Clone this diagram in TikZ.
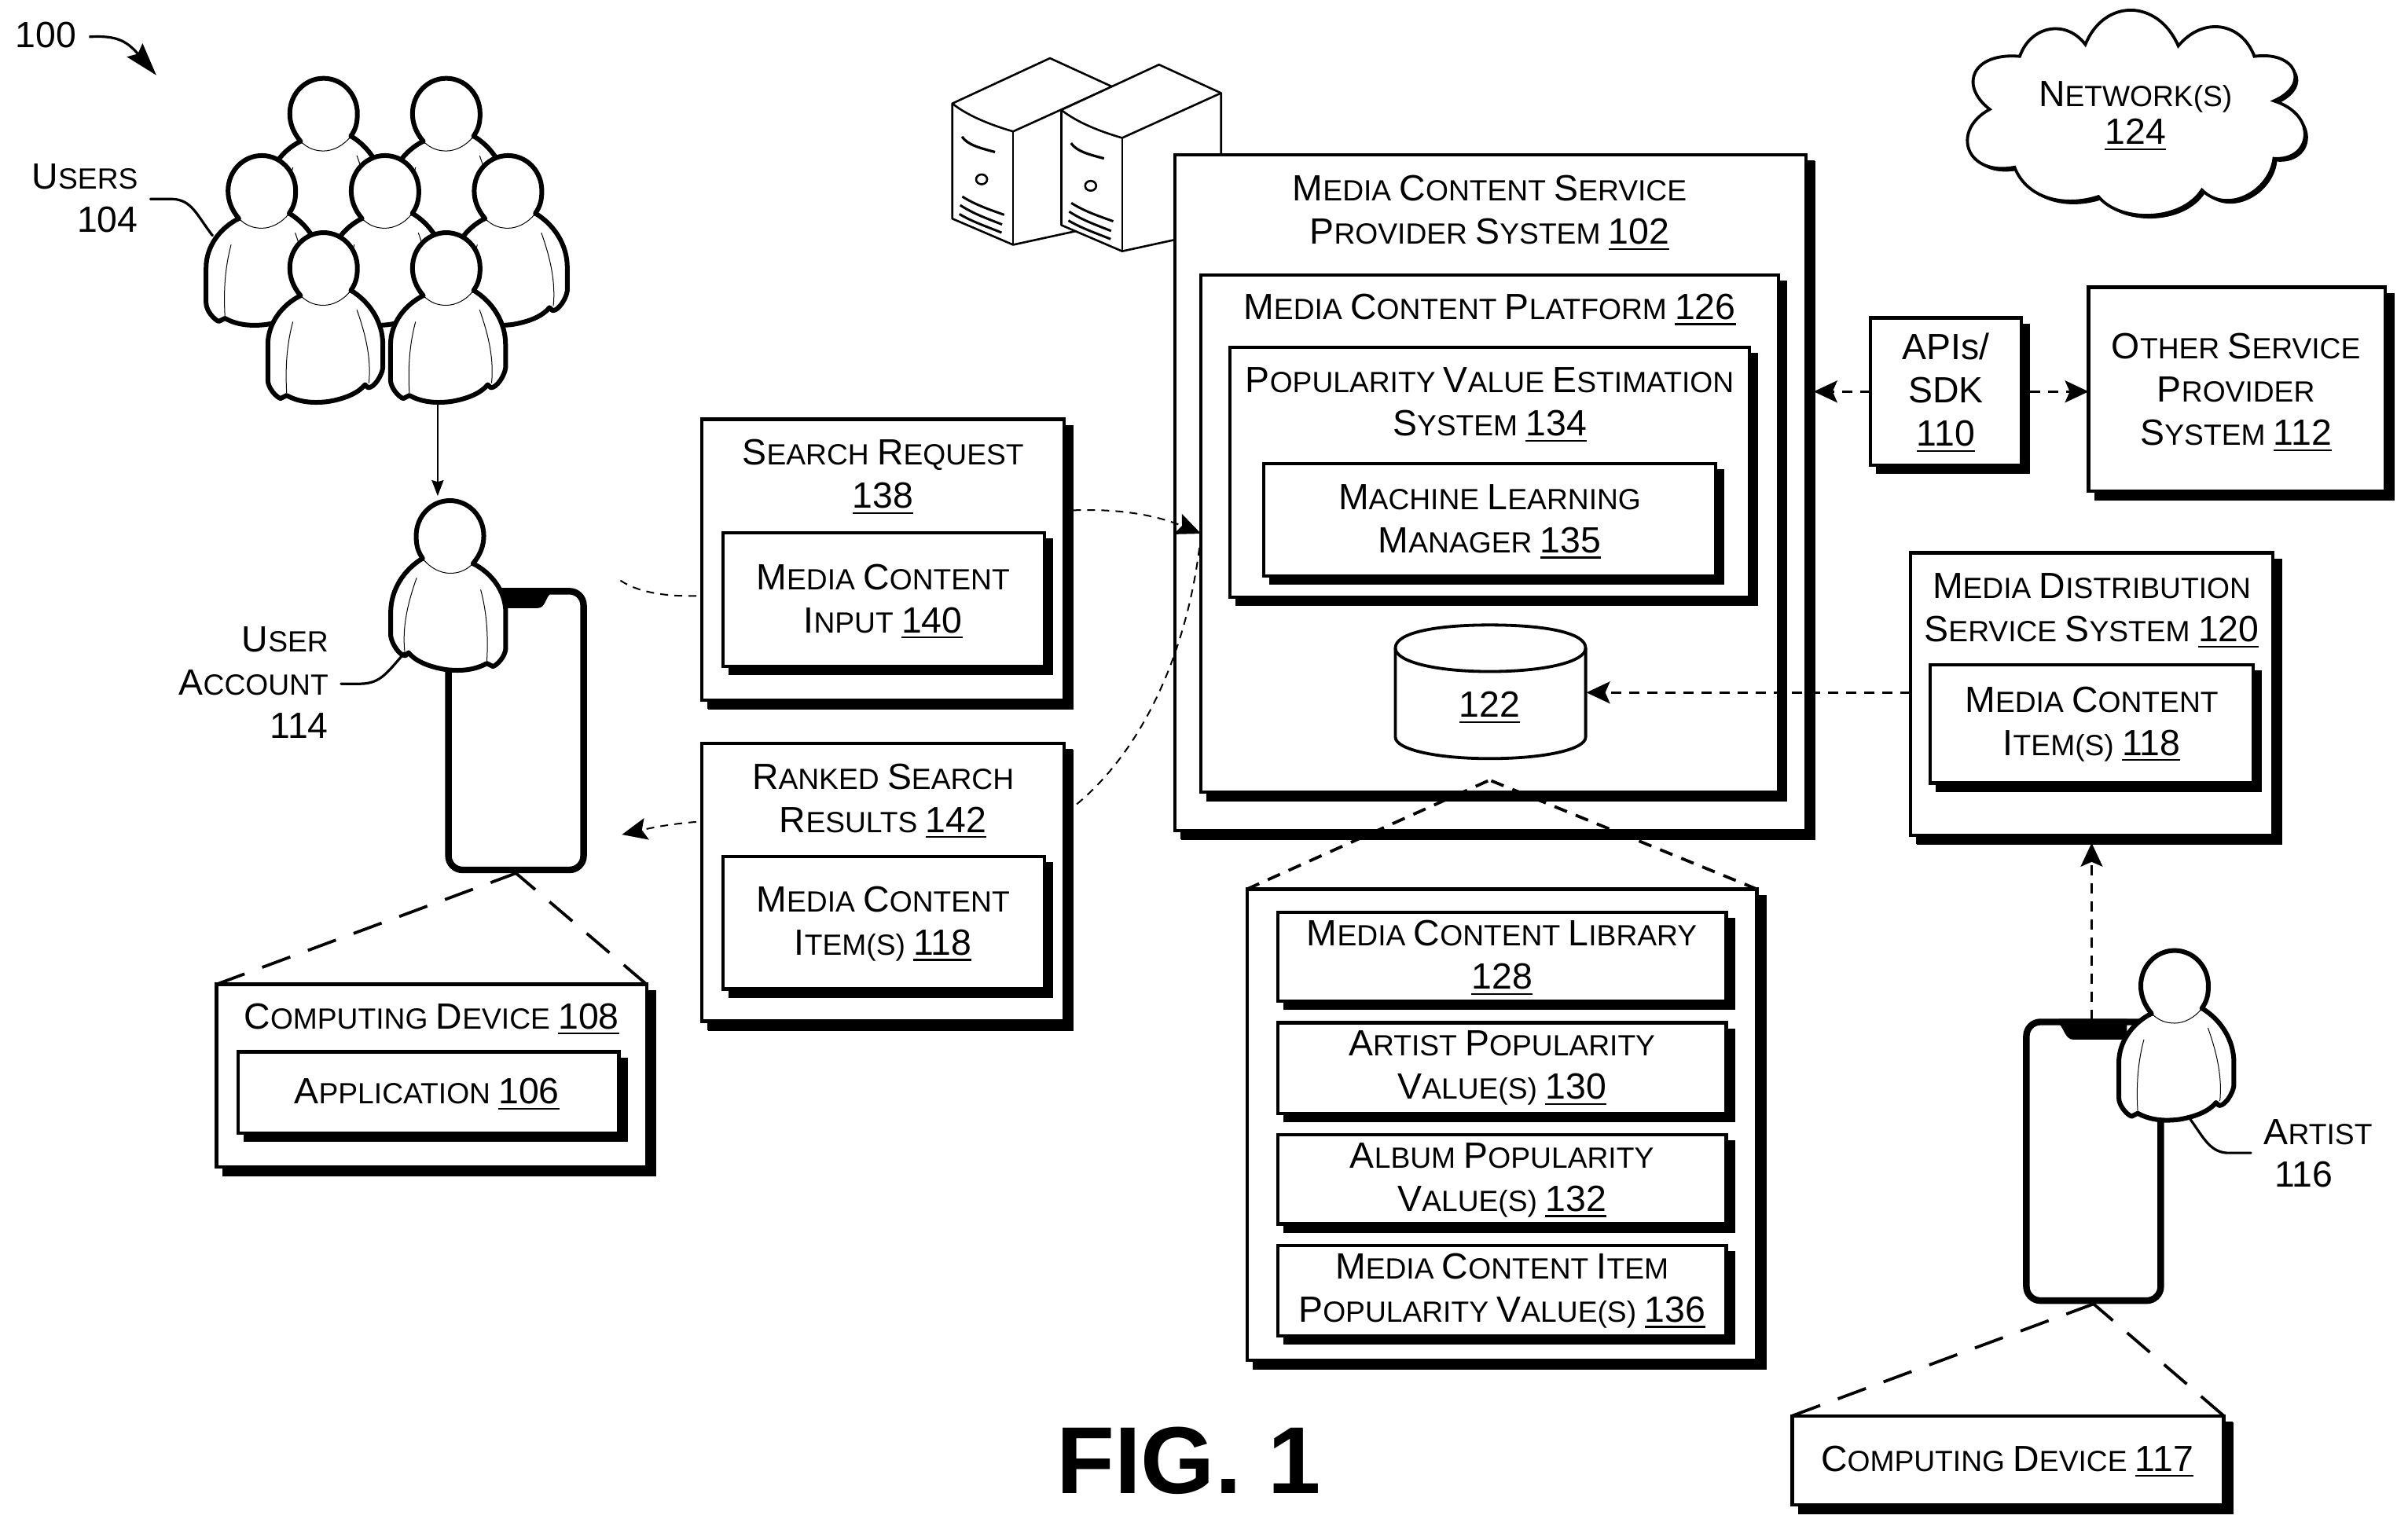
\documentclass[tikz,border=0pt]{standalone}
\usepackage{fontspec}
\setmainfont{Liberation Sans}
\usetikzlibrary{arrows.meta,shadows,fit}
\newcommand\K[1]{{\fontsize{23.2}{27}\selectfont #1}}
\newcommand\NN[1]{\K{\setbox0\hbox{#1}\rlap{\rule[-3.6pt]{\wd0}{1.1pt}}\box0}}
\newcommand\BX[6][box]{%
  \coordinate (#2-a) at (#3,#4);\coordinate (#2-b) at (#5,#6);
  \node[#1,fit=(#2-a)(#2-b)] (#2) {};}
\newcommand\person[3]{%
 \begin{scope}[shift={(#1,#2)},xscale=#3]
  \filldraw[fill=white,draw=black,line width=3pt,line join=round]
   (-15,18) .. controls (-27,24) and (-36.3,36) .. (-36.3,50) -- (-36.3,73)
   .. controls (-36.3,78) and (-31,84) .. (-28,85) -- (-24,83)
   .. controls (-15,88) and (-5,88) .. (3,87) .. controls (15,85) and (23,81) .. (27,76)
   -- (29,78) .. controls (33,78) and (38,70) .. (38.6,65) -- (38.6,50)
   .. controls (38.6,35) and (30,22) .. (17.8,14.6) -- cycle;
  \draw[line width=.5pt] (-20,35) .. controls (-24,50) and (-25,65) .. (-24,82);
  \draw[line width=.5pt] (21.7,27.3) .. controls (28,45) and (31,60) .. (29.5,75);
  \fill[white] (-15,18) .. controls (-20,12) and (-22,6) .. (-22,0)
    .. controls (-22,-13) and (-12,-23) .. (0,-23) .. controls (12,-23) and (22,-13) .. (22,0)
    .. controls (22,6) and (21,10) .. (17.8,14.6)
    .. controls (13,21) and (6,24.3) .. (0,24.3) .. controls (-5,24.3) and (-10,23) .. (-15,18) -- cycle;
  \draw[line width=3pt,line cap=round] (-15,18) .. controls (-20,12) and (-22,6) .. (-22,0)
    .. controls (-22,-13) and (-12,-23) .. (0,-23) .. controls (12,-23) and (22,-13) .. (22,0)
    .. controls (22,6) and (21,10) .. (17.8,14.6);
  \draw[line width=.5pt] (17.8,14.6) .. controls (13,21) and (6,24.3) .. (0,24.3) .. controls (-5,24.3) and (-10,23) .. (-15,18);
 \end{scope}}
\newcommand\server[3]{%
 \begin{scope}[shift={(#1,#2)},line width=1.3pt,line join=round]
  \filldraw[fill=white] (0,0) -- (63.6,-29.5) -- (104,-11) -- (104,#3) -- (39.6,92) -- (0,75) -- cycle;
  \draw (0,0) .. controls (10,8) and (25,14) .. (39.6,18.2) -- (104,-11);
  \draw (39.6,18.2) -- (39.6,92);
  \draw[line width=1.6pt] (6.3,21.6) .. controls (10,27) and (18,29) .. (27.8,31.6);
  \draw (19.1,49.4) ellipse [x radius=3.6,y radius=3.2];
  \draw[line width=1.5pt] (6.5,60.6) .. controls (15,66) and (24,69) .. (33.8,72.5);
  \draw[line width=1.5pt] (5.1,66.2) .. controls (14,72) and (23,75) .. (32.4,78.8);
  \draw[line width=1.5pt] (4.6,72) .. controls (13,77) and (22,80) .. (32.1,84.1);
 \end{scope}}
\tikzset{
 box/.style={draw=black,fill=white,line width=2.1pt,inner sep=0pt,outer sep=0pt,
   copy shadow={shadow xshift=4.6pt,shadow yshift=-4.6pt,fill=black,draw=black}},
 bigbox/.style={box,copy shadow={shadow xshift=5pt,shadow yshift=-5pt,fill=black,draw=black}},
 lbl/.style={align=center,inner sep=0pt,yshift=-1.5pt,font=\fontsize{18.6}{27.5}\selectfont},
 rlbl/.style={align=right,inner sep=0pt,font=\fontsize{18.6}{27.5}\selectfont},
 phonebox/.style={draw=black,fill=white,line width=4.2pt,rounded corners=9pt,inner sep=0pt},
 flow/.style={line width=1.4pt,dash pattern=on 6.5pt off 5pt,-{Stealth[length=15pt,width=14pt,inset=3pt]}},
 thinflow/.style={line width=1pt,dash pattern=on 5pt off 4pt,-{Stealth[length=16pt,width=14pt,inset=3pt]}},
 exploded/.style={line width=1.9pt,dash pattern=on 19pt off 12pt},
 exploded2/.style={line width=1.9pt,dash pattern=on 8.5pt off 6pt},
 leader/.style={line width=1.6pt,line cap=round},
}
\begin{document}
\begin{tikzpicture}[x=0.977pt,y=-0.977pt]
\useasboundingbox (0,0) rectangle (1568,996);
% servers
\server{620.1}{67.4}{78}
\server{691.1}{71.6}{78}
% main stack
\BX[bigbox]{main}{765}{101}{1176}{541}
\BX[box]{platform}{782}{179}{1158}{516}
\BX[box]{pop}{801}{226}{1139}{389}
\BX[box]{ml}{823}{302}{1117}{375}
\node[lbl] (tmain) at (970,137) {\K{M}EDIA \K{C}ONTENT \K{S}ERVICE\\\K{P}ROVIDER \K{S}YSTEM \NN{102}};
\node[lbl] (tplat) at (970,200) {\K{M}EDIA \K{C}ONTENT \K{P}LATFORM \NN{126}};
\node[lbl] (tpop) at (970,262) {\K{P}OPULARITY \K{V}ALUE \K{E}STIMATION\\\K{S}YSTEM \NN{134}};
\node[lbl] (tml) at (970,338) {\K{M}ACHINE \K{L}EARNING\\\K{M}ANAGER \NN{135}};
% flows hidden behind the request and result boxes
\coordinate (userIn) at (404,378);
\coordinate (userOut) at (405,543.5);
\draw[thinflow] (userIn) .. controls (430,396) and (500,390) .. (575,360) .. controls (640,334) and (720,322) .. (platform.west);
\draw[thinflow] (platform.west) .. controls (775,420) and (745,490) .. (697,527) .. controls (640,570) and (520,517) .. (userOut);
% database
\draw[fill=white,line width=1.9pt,line join=round] (908.6,422) .. controls (908.6,412) and (935,407) .. (970,407) .. controls (1006,407) and (1032.5,412) .. (1032.5,422) -- (1032.5,480)
 .. controls (1032.5,488) and (1006,494) .. (970,494) .. controls (935,494) and (908.6,488) .. (908.6,480) -- cycle;
\draw[line width=1.9pt] (908.6,422) .. controls (908.6,431) and (935,437.3) .. (970,437.3) .. controls (1006,437.3) and (1032.5,431) .. (1032.5,422);
\node[lbl] (db) at (970,459) {\NN{122}};
\coordinate (dbE) at (1033,451);
\coordinate (dbTop) at (970,508);
% request / results
\BX[bigbox]{req}{457}{273}{693}{456}
\BX[box]{reqin}{471}{347}{680}{434}
\node[lbl] (treq) at (575,309) {\K{S}EARCH \K{R}EQUEST\\\NN{138}};
\node[lbl] (treqin) at (575,390) {\K{M}EDIA \K{C}ONTENT\\\K{I}NPUT \NN{140}};
\BX[bigbox]{res}{457}{484}{693}{665}
\BX[box]{resit}{471}{558}{680}{644}
\node[lbl] (tres) at (575,520) {\K{R}ANKED \K{S}EARCH\\\K{R}ESULTS \NN{142}};
\node[lbl] (tresit) at (575,600) {\K{M}EDIA \K{C}ONTENT\\\K{I}TEM(S) \NN{118}};
% APIs, other provider
\BX[box]{api}{1218}{207}{1316}{303}
\node[lbl] (tapi) at (1267,254) {\K{APIs/}\\\K{SDK}\\\NN{110}};
\BX[bigbox]{other}{1360}{187}{1553}{320}
\node[lbl] (tother) at (1456,254) {\K{O}THER \K{S}ERVICE\\\K{P}ROVIDER\\\K{S}YSTEM \NN{112}};
\coordinate (apiL) at (1181,255);
\coordinate (apiLs) at (1218,255);
\coordinate (apiRs) at (1322,255);
\draw[flow] (apiLs) -- (apiL);
\draw[flow] (apiRs) -- (other.west |- apiRs);
% distribution
\BX[bigbox]{dist}{1244}{360}{1480}{544}
\BX[box]{distit}{1257}{433}{1467}{510}
\node[lbl] (tdist) at (1362,396) {\K{M}EDIA \K{D}ISTRIBUTION\\\K{S}ERVICE \K{S}YSTEM \NN{120}};
\node[lbl] (tdistit) at (1362,470) {\K{M}EDIA \K{C}ONTENT\\\K{I}TEM(S) \NN{118}};
\draw[flow] (dist.west |- dbE) -- (dbE);
% library
\BX[bigbox]{lib}{812}{579}{1144}{886}
\BX[box]{l1}{832}{594}{1124}{652}
\BX[box]{l2}{832}{666}{1124}{725}
\BX[box]{l3}{832}{739}{1124}{797}
\BX[box]{l4}{832}{811}{1124}{870}
\node[lbl] (tl1) at (978,622) {\K{M}EDIA \K{C}ONTENT \K{L}IBRARY\\\NN{128}};
\node[lbl] (tl2) at (978,694) {\K{A}RTIST \K{P}OPULARITY\\\K{V}ALUE(S) \NN{130}};
\node[lbl] (tl3) at (978,767) {\K{A}LBUM \K{P}OPULARITY\\\K{V}ALUE(S) \NN{132}};
\node[lbl] (tl4) at (978,839) {\K{M}EDIA \K{C}ONTENT \K{I}TEM\\\K{P}OPULARITY \K{V}ALUE(S) \NN{136}};
\draw[exploded2] (lib.north west) -- (dbTop);
\draw[exploded2] (lib.north east) -- (dbTop);
% users group
\person{210.7}{74}{1}\person{290.6}{74}{1}
\person{170.5}{124.3}{1}\person{250.7}{124.3}{1}\person{330.8}{124.3}{1}
\person{210.7}{174.5}{1}\person{290.6}{174.5}{1}
\node[rlbl,anchor=east] (tusers) at (90,129) {\K{U}SERS\\\K{104}};
\coordinate (usersLs) at (98,129.6);
\coordinate (usersLe) at (138.4,153.4);
\draw[leader] (usersLs) -- (112,129.6) .. controls (125,130) and (128,140) .. (usersLe);
\coordinate (usersB) at (285,263);
\coordinate (userT) at (285,323);
\draw[line width=1.1pt,-{Stealth[length=10pt,width=7.5pt,inset=1pt]}] (usersB) -- (userT);
% user and phone
\BX[phonebox]{ph1}{292}{385}{380}{566.5}
\fill (314,383) -- (358,383) -- (358,387) .. controls (355,390) and (355,396) .. (350,396) -- (322,396) .. controls (317,396) and (317,390) .. (314,387) -- cycle;
\person{293}{349}{-1}
\node[rlbl,anchor=east] (tua) at (214,444.5) {\K{U}SER\\\K{A}CCOUNT\\\K{114}};
\coordinate (uaLs) at (222,445.3);
\coordinate (uaLe) at (263.6,425);
\draw[leader] (uaLs) -- (235,445.3) .. controls (248,445) and (252,438) .. (uaLe);
\BX[bigbox]{cd}{141}{641}{421}{760}
\BX[box]{app}{155}{685}{403}{738}
\node[lbl] (tcd) at (281,662) {\K{C}OMPUTING \K{D}EVICE \NN{108}};
\node[lbl] (tapp) at (278,711) {\K{A}PPLICATION \NN{106}};
\draw[exploded] (cd.north west) -- (ph1.south);
\draw[exploded] (cd.north east) -- (ph1.south);
% artist and phone
\BX[phonebox]{ph2}{1319.5}{665.5}{1407}{847}
\fill (1341,663.5) -- (1385,663.5) -- (1385,677) -- (1350,677) .. controls (1345,677) and (1344,670) .. (1341,667) -- cycle;
\person{1416}{642}{1}
\node[lbl,anchor=west] (tart) at (1474,735.5) {\K{A}RTIST};
\node[lbl] (tart2) at (1500,763.5) {\K{116}};
\coordinate (arLs) at (1465.7,750.8);
\coordinate (arLe) at (1424.8,727);
\draw[leader] (arLs) -- (1450,750.8) .. controls (1438,750) and (1434,739) .. (arLe);
\coordinate (arUp) at (1362,664);
\draw[flow] (arUp) -- (dist.south |- 0,549);
\BX[bigbox]{cd2}{1167}{922}{1448}{980}
\node[lbl] (tcd2) at (1307,950) {\K{C}OMPUTING \K{D}EVICE \NN{117}};
\draw[exploded] (cd2.north west) -- (ph2.south);
\draw[exploded] (cd2.north east) -- (ph2.south);
% network cloud
\def\cloudpath{(1295.6,71.2) .. controls (1275,55) and (1285,34) .. (1315.2,36.7)
 .. controls (1322,17) and (1345,12) .. (1357.9,29)
 .. controls (1370,-1) and (1405,-1) .. (1418.4,29.9)
 .. controls (1435,10) and (1460,15) .. (1467.9,36.7)
 .. controls (1495,33) and (1505,55) .. (1480.7,65.7)
 .. controls (1510,75) and (1505,105) .. (1480.7,103.2)
 .. controls (1478,125) and (1450,140) .. (1433.8,123.7)
 .. controls (1420,145) and (1380,145) .. (1366.4,128)
 .. controls (1345,135) and (1320,130) .. (1311.8,108.9)
 .. controls (1280,115) and (1270,85) .. (1295.6,71.2) -- cycle}
\fill[black,xshift=2pt,yshift=-2pt] \cloudpath;
\filldraw[fill=white,line width=1.9pt] \cloudpath;
\node[lbl] (tnet) at (1390.5,74) {\K{N}ETWORK(S)\\[-3.5pt]\NN{124}};
% figure number
\node[lbl,font=\bfseries\fontsize{60.5}{70}\selectfont] (fig) at (774,949.5) {FIG. 1};
\node[lbl] (n100) at (30,21.5) {\K{100}};
\coordinate (a100s) at (58,24);
\coordinate (a100e) at (101.8,49);
\draw[line width=1.6pt,-{Stealth[length=21pt,width=13pt,inset=3pt]}] (a100s) .. controls (75,23) and (82,26) .. (a100e);
\end{tikzpicture}
\end{document}
